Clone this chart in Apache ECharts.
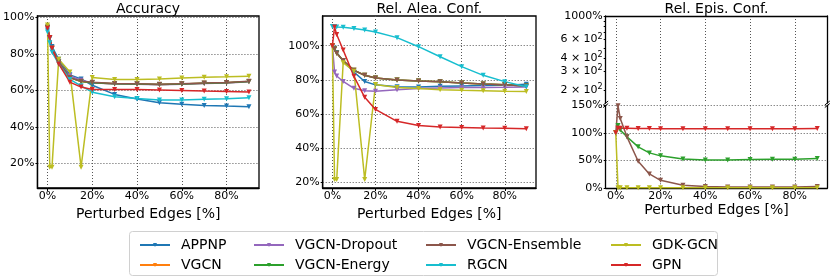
<!DOCTYPE html>
<html><head><meta charset="utf-8">
<script src="https://cdn.jsdelivr.net/npm/echarts@6/dist/echarts.min.js"></script>
<style>html,body{margin:0;padding:0;background:#fff}#c{width:831px;height:279px}</style>
</head><body><div id="c"></div><script>
// ---- data ----
const xValues = [0, 1, 2, 5, 10, 15, 20, 30, 40, 50, 60, 70, 80, 90];
const methods = ['APPNP', 'VGCN', 'VGCN-Dropout', 'VGCN-Energy', 'VGCN-Ensemble', 'RGCN', 'GDK-GCN', 'GPN'];
const methodColors = ['#1f77b4', '#ff7f0e', '#9467bd', '#2ca02c', '#8c564b', '#17becf', '#bcbd22', '#d62728'];
const xTicks = [0, 20, 40, 60, 80];
const accTicks = [20, 40, 60, 80, 100];
const aleaTicks = [20, 40, 60, 80, 100];
const episLowTicks = [0, 50, 100, 150];
const episHighTicks = [200, 300, 400, 500, 600, 700, 800, 900, 1000];
const episHighLabels = [200, 300, 400, 600, 1000];

// Accuracy [%]
const accAPPNP    = [93, 88.5, 84, 77, 68.5, 66.3, 62.8, 57.8, 55.3, 53.3, 52.4, 51.8, 51.4, 51.1];
const accVGCN     = [94.5, 89, 83, 75.5, 67, 64.8, 64.2, 63.6, 63.5, 63.2, 63.5, 63.9, 64.2, 64.8];
const accDropout  = [94.5, 88.5, 83, 75.5, 68, 65.5, 64.2, 63.5, 63.4, 63.1, 63.4, 63.8, 64.1, 64.7];
const accEnergy   = [94.5, 89, 83, 75.5, 67, 64.8, 64.2, 63.6, 63.5, 63.2, 63.5, 63.9, 64.2, 64.8];
const accEnsemble = [94.5, 89, 83, 75.5, 67, 65, 64.4, 63.8, 63.7, 63.4, 63.7, 64, 64.3, 65];
const accRGCN     = [92, 86, 81, 74.5, 66, 62.5, 59, 56.5, 55.5, 54.7, 54.8, 55.1, 55.4, 56];
const accGDK      = [95.8, 18, 18, 77, 70, 18, 67, 66, 66, 66.3, 66.8, 67.2, 67.4, 67.8];
const accGPN      = [94, 89, 83, 74.5, 64.5, 61.8, 60.5, 60.5, 60.5, 60.2, 59.9, 59.6, 59.4, 59.1];

// Rel. aleatoric confidence [%]
const aleaAPPNP    = [100, 98.5, 96, 91, 84.5, 79, 77, 75.9, 75.8, 76.2, 76.4, 76.6, 76.8, 77.3];
const aleaVGCN     = [100, 98, 95.5, 91.3, 85.6, 82.6, 81, 79.8, 79.2, 78.8, 78.1, 77.5, 77.1, 76.3];
const aleaDropout  = [100, 84.5, 82.2, 79, 75, 73.6, 73.3, 74.2, 74.8, 75.2, 75.4, 75.5, 75.6, 75.8];
const aleaEnergy   = [100, 98, 95.5, 91.3, 85.6, 82.6, 81, 79.8, 79.2, 78.8, 78.1, 77.5, 77.1, 76.3];
const aleaEnsemble = [100, 98, 95.5, 91.3, 85.6, 82.6, 81, 79.8, 79.2, 78.8, 78.1, 77.5, 77.1, 76.3];
const aleaRGCN     = [111.2, 111.1, 111, 110.8, 110, 109.2, 108, 104.7, 99.4, 93.5, 87.7, 82.6, 78.9, 75.9];
const aleaGDK      = [100, 21.5, 21.5, 90, 85, 21.5, 77.2, 75.5, 74.9, 74.1, 73.8, 73.6, 73.3, 73.1];
const aleaGPN      = [100, 111, 106.5, 97.5, 82, 69.7, 62.6, 55.6, 53.2, 52.3, 52, 51.7, 51.5, 51.3];

// Rel. epistemic confidence [%]
const episEnergy   = [100, 113.5, 105, 93, 74.6, 63.7, 58.3, 52.8, 51, 51, 51.6, 52.2, 52.2, 53.4];
const episEnsemble = [100, 149, 126, 92.8, 48.5, 25.5, 14, 4.9, 2.5, 2, 2, 2, 2, 2.5];
const episGDK      = [100, 0.5, 0.5, 0.5, 0.5, 0.5, 0.5, 0.5, 0.5, 0.5, 0.5, 0.5, 0.5, 0.5];
const episGPN      = [100, 108.5, 108.5, 108.5, 108, 107.7, 107.5, 107.5, 107.5, 107.5, 107.5, 107.5, 107.5, 107.8];

const accData  = [accAPPNP, accVGCN, accDropout, accEnergy, accEnsemble, accRGCN, accGDK, accGPN];
const aleaData = [aleaAPPNP, aleaVGCN, aleaDropout, aleaEnergy, aleaEnsemble, aleaRGCN, aleaGDK, aleaGPN];
const episData = [null, null, null, episEnergy, episEnsemble, null, episGDK, episGPN];

// ---- chart ----
const FONT = 'DejaVu Sans';
const gridLine = { show: true, lineStyle: { color: '#555', type: [1, 2], width: 1 } };
const pct = v => v + '%';

function xAxisBottom(gridIndex) {
  return {
    type: 'value', gridIndex, min: -4.5, max: 94.5, position: 'bottom',
    axisLine: { show: true, onZero: false, lineStyle: { color: '#000', width: 1.3 } },
    axisTick: { show: true, length: 3, customValues: xTicks, lineStyle: { color: '#000' } },
    axisLabel: { customValues: xTicks, formatter: pct, color: '#000', fontFamily: FONT, fontSize: 11, margin: 3 },
    splitLine: gridLine,
    name: 'Perturbed Edges [%]', nameLocation: 'middle', nameGap: 15,
    nameTextStyle: { color: '#000', fontFamily: FONT, fontSize: 14 }
  };
}
function yAxisLeft(gridIndex, min, max, ticks) {
  return {
    type: 'value', gridIndex, min, max, position: 'left',
    axisLine: { show: true, onZero: false, lineStyle: { color: '#000', width: 1.3 } },
    axisTick: { show: true, length: 2, customValues: ticks, lineStyle: { color: '#000' } },
    axisLabel: { customValues: ticks, formatter: pct, color: '#000', fontFamily: FONT, fontSize: 11, margin: 3 },
    splitLine: gridLine
  };
}
function dummyY(gridIndex) {
  return {
    type: 'value', gridIndex, min: 0, max: 1, position: 'right',
    axisLine: { show: true, onZero: false, lineStyle: { color: '#000', width: 1.3 } },
    axisTick: { show: false }, axisLabel: { show: false }, splitLine: { show: false }
  };
}

const series = [];
function addSeries(dataSets, xIdx, yIdx) {
  methods.forEach((m, i) => {
    const vals = dataSets[i];
    if (!vals) return;
    series.push({
      name: m, type: 'line', xAxisIndex: xIdx, yAxisIndex: yIdx,
      data: xValues.map((x, j) => [x, vals[j]]),
      symbol: 'triangle', symbolRotate: 180, symbolSize: 5, showSymbol: true,
      lineStyle: { width: 1.5, color: methodColors[i] },
      itemStyle: { color: methodColors[i] },
      emphasis: { disabled: true }, animation: false
    });
  });
}
addSeries(accData, 0, 0);
addSeries(aleaData, 1, 1);
addSeries(episData, 3, 4);

function legendCol(left, names) {
  return {
    orient: 'vertical', left, top: 233, itemWidth: 30, itemHeight: 5, itemGap: 6,
    data: names, selectedMode: false,
    textStyle: { color: '#000', fontFamily: FONT, fontSize: 14, padding: [0, 0, 0, 6] }
  };
}

const option = {
  animation: false,
  backgroundColor: '#fff',
  color: methodColors,
  grid: [
    { left: 37, top: 16, width: 222, height: 172, show: true, borderColor: '#000', borderWidth: 1.3 },
    { left: 322.7, top: 16, width: 213.3, height: 172, show: true, borderColor: '#000', borderWidth: 1.3 },
    { left: 605.7, top: 16, width: 221.6, height: 87 },
    { left: 605.7, top: 105.3, width: 221.6, height: 82.7 }
  ],
  xAxis: [
    xAxisBottom(0),
    xAxisBottom(1),
    {
      type: 'value', gridIndex: 2, min: -4.5, max: 94.5, position: 'top',
      axisLine: { show: true, onZero: false, lineStyle: { color: '#000', width: 1.3 } },
      axisTick: { show: false, customValues: xTicks }, axisLabel: { show: false, customValues: xTicks },
      splitLine: gridLine
    },
    xAxisBottom(3)
  ],
  yAxis: [
    yAxisLeft(0, 6.6, 100.7, accTicks),
    yAxisLeft(1, 16.5, 117.4, aleaTicks),
    {
      type: 'log', logBase: 10, gridIndex: 2, min: 150, max: 1000, position: 'left',
      axisLine: { show: true, onZero: false, lineStyle: { color: '#000', width: 1.3 } },
      axisTick: { show: true, length: 2, customValues: episHighTicks, lineStyle: { color: '#000' } },
      axisLabel: {
        customValues: episHighLabels, margin: 3, color: '#000', fontFamily: FONT, fontSize: 11,
        formatter: v => v >= 999 ? '{n|1000%}' : '{n|' + Math.round(v / 100) + ' × 10}{s|2}',
        rich: {
          n: { fontFamily: FONT, fontSize: 11, color: '#000', lineHeight: 14 },
          s: { fontFamily: FONT, fontSize: 8, color: '#000', verticalAlign: 'top', lineHeight: 14 }
        }
      },
      splitLine: { show: false }
    },
    dummyY(2),
    yAxisLeft(3, 0, 150, episLowTicks),
    dummyY(3)
  ],
  legend: [
    legendCol(134, ['APPNP', 'VGCN']),
    legendCol(248, ['VGCN-Dropout', 'VGCN-Energy']),
    legendCol(420, ['VGCN-Ensemble', 'RGCN']),
    legendCol(605, ['GDK-GCN', 'GPN'])
  ],
  graphic: [
    { type: 'rect', shape: { x: 129.5, y: 231.5, width: 588, height: 44, r: 3 }, style: { fill: 'none', stroke: '#d0d0d0', lineWidth: 1 }, z: -1 },
    { type: 'text', x: 148, y: 9.5, style: { text: 'Accuracy', font: '14px "DejaVu Sans"', fill: '#000', textAlign: 'center', textVerticalAlign: 'middle' } },
    { type: 'text', x: 429.3, y: 9.5, style: { text: 'Rel. Alea. Conf.', font: '14px "DejaVu Sans"', fill: '#000', textAlign: 'center', textVerticalAlign: 'middle' } },
    { type: 'text', x: 716.5, y: 9.5, style: { text: 'Rel. Epis. Conf.', font: '14px "DejaVu Sans"', fill: '#000', textAlign: 'center', textVerticalAlign: 'middle' } },
    { type: 'line', shape: { x1: 603.2, y1: 105, x2: 608.2, y2: 101 }, style: { stroke: '#000', lineWidth: 1 } },
    { type: 'line', shape: { x1: 603.2, y1: 107.5, x2: 608.2, y2: 103.5 }, style: { stroke: '#000', lineWidth: 1 } },
    { type: 'line', shape: { x1: 824.8, y1: 105, x2: 829.8, y2: 101 }, style: { stroke: '#000', lineWidth: 1 } },
    { type: 'line', shape: { x1: 824.8, y1: 107.5, x2: 829.8, y2: 103.5 }, style: { stroke: '#000', lineWidth: 1 } }
  ],
  series
};

const chart = echarts.init(document.getElementById('c'), null, { renderer: 'canvas' });
chart.setOption(option);
</script></body></html>
